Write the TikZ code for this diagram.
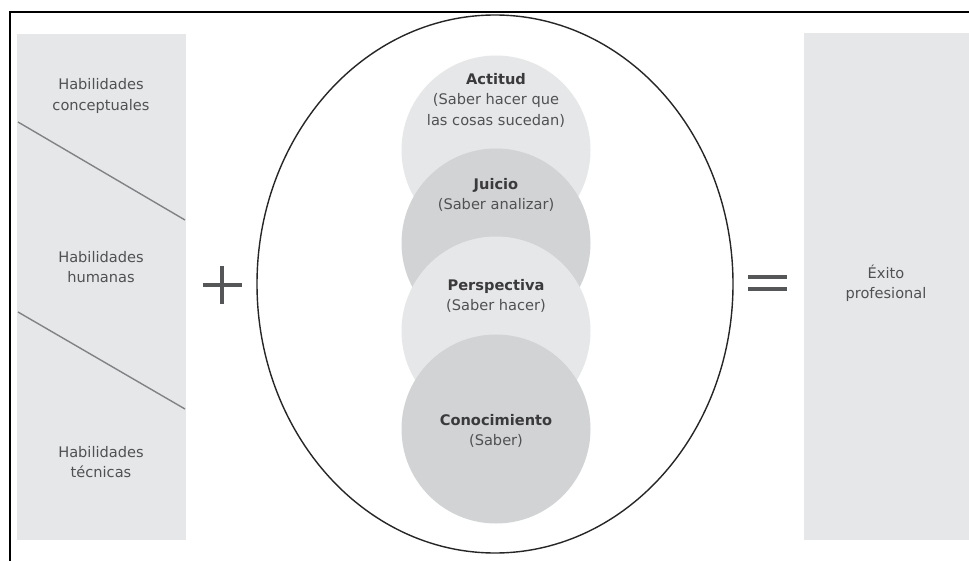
\documentclass[tikz,border=0pt]{standalone}
\usepackage{fontspec}
\setmainfont{DejaVu Sans}
\usetikzlibrary{shapes.geometric}
\definecolor{panelgray}{HTML}{E6E7E8}
\definecolor{lightdisc}{HTML}{E6E7E8}
\definecolor{darkdisc}{HTML}{D1D3D4}
\definecolor{labelgray}{HTML}{505153}
\definecolor{headgray}{HTML}{3A393B}
\definecolor{rulegray}{HTML}{808285}
\definecolor{signgray}{HTML}{555658}
\begin{document}
\begin{tikzpicture}[x=1pt,y=-1pt,
  panel/.style={fill=panelgray, inner sep=0pt, anchor=north west},
  disc/.style={circle, inner sep=0pt, minimum size=189pt},
  caption/.style={align=center, text=labelgray, font=\fontsize{14.6}{20.5}\selectfont},
  signline/.style={draw=signgray, line width=3.2pt},
  divider/.style={draw=rulegray, line width=1.4pt}]
\useasboundingbox (0,0) rectangle (969,561);
\fill[white] (0,0) rectangle (969,561);

% outer frame (top and left edges)
\draw[line width=2.5pt] (10,561) -- (10,12) -- (969,12);

% left column of skills
\node[panel, minimum width=169pt, minimum height=506pt] (skills) at (17,34) {};
\coordinate (d1a) at (18,122);
\coordinate (d1b) at (185,220);
\coordinate (d2a) at (18,312);
\coordinate (d2b) at (185,409);
\draw[divider] (d1a) -- (d1b);
\draw[divider] (d2a) -- (d2b);
\node[caption] (conc) at (101,96) {Habilidades\\conceptuales};
\node[caption] (hum) at (101,267) {Habilidades\\humanas};
\node[caption] (tec) at (101,462) {Habilidades\\técnicas};

% plus sign
\coordinate (pl) at (203,285);
\coordinate (pr) at (242,285);
\coordinate (pt) at (222,266);
\coordinate (pb) at (222,304);
\draw[signline] (pl) -- (pr);
\draw[signline] (pt) -- (pb);

% enclosing ellipse
\node[ellipse, draw=black!85, line width=1.4pt, inner sep=0pt,
      minimum width=476pt, minimum height=538pt] (whole) at (495,284) {};

% stacked discs
\node[disc, fill=lightdisc] (actitud) at (496,150) {};
\node[disc, fill=darkdisc] (juicio) at (496,243) {};
\node[disc, fill=lightdisc] (persp) at (496,331) {};
\node[disc, fill=darkdisc] (conoc) at (496,429) {};

\node[caption] (tact) at (496,100) {\textbf{\color{headgray}Actitud}\\(Saber hacer que\\las cosas sucedan)};
\node[caption] (tjui) at (496,195) {\textbf{\color{headgray}Juicio}\\(Saber analizar)};
\node[caption] (tper) at (496,296) {\textbf{\color{headgray}Perspectiva}\\(Saber hacer)};
\node[caption] (tcon) at (496,431) {\textbf{\color{headgray}Conocimiento}\\(Saber)};

% equals sign
\coordinate (e1l) at (748,277);
\coordinate (e1r) at (787,277);
\coordinate (e2l) at (748,289);
\coordinate (e2r) at (787,289);
\draw[signline, line width=3.6pt] (e1l) -- (e1r);
\draw[signline, line width=3.6pt] (e2l) -- (e2r);

% result column
\node[panel, minimum width=166pt, minimum height=507pt] (result) at (804,33) {};
\node[caption] (exito) at (886,283) {Éxito\\profesional};
\end{tikzpicture}
\end{document}
